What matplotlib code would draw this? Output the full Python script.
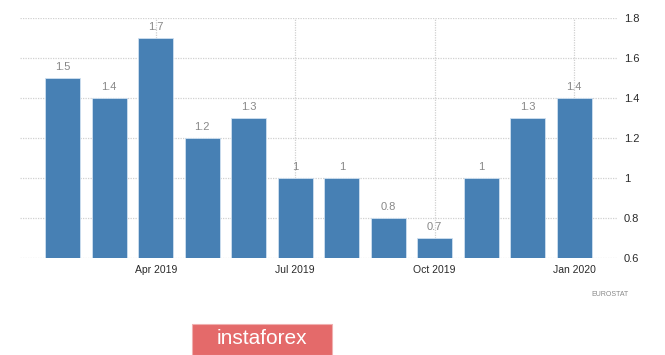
import numpy as np
import matplotlib
matplotlib.use("Agg")
import matplotlib.pyplot as plt
from matplotlib.patches import Rectangle

plt.rcParams['font.family'] = ['Liberation Sans', 'DejaVu Sans']

# Data: monthly values Feb 2019 .. Jan 2020
months = ["Feb 2019", "Mar 2019", "Apr 2019", "May 2019", "Jun 2019", "Jul 2019",
          "Aug 2019", "Sep 2019", "Oct 2019", "Nov 2019", "Dec 2019", "Jan 2020"]
values = [1.5, 1.4, 1.7, 1.2, 1.3, 1.0, 1.0, 0.8, 0.7, 1.0, 1.3, 1.4]
value_labels = ["1.5", "1.4", "1.7", "1.2", "1.3", "1", "1", "0.8", "0.7", "1", "1.3", "1.4"]
tick_months = ["Apr 2019", "Jul 2019", "Oct 2019", "Jan 2020"]
y_ticks = [0.6, 0.8, 1.0, 1.2, 1.4, 1.6, 1.8]
y_tick_labels = ["0.6", "0.8", "1", "1.2", "1.4", "1.6", "1.8"]

fig = plt.figure(figsize=(6.65, 3.55), dpi=100)
ax = fig.add_axes([20 / 665, 1 - 258 / 355, (617 - 20) / 665, (258 - 18) / 355])

x = np.arange(len(months))
bottom = 0.6
ax.bar(x, np.array(values) - bottom, bottom=bottom, width=0.75,
       color="#4780b4", edgecolor="#cfe0f0", linewidth=0.6, zorder=3)

for xi, v, lab in zip(x, values, value_labels):
    ax.text(xi, v + 0.03, lab, ha="center", va="bottom", fontsize=8, color="#888888")

ax.set_xlim(-0.92, 11.92)
ax.set_ylim(0.6, 1.8)

tick_pos = [months.index(m) for m in tick_months]
ax.set_xticks(tick_pos)
ax.set_xticklabels(tick_months, fontsize=7.5, color="#2a2a2a")
ax.set_yticks(y_ticks)
ax.set_yticklabels(y_tick_labels, fontsize=8, color="#2a2a2a")
ax.yaxis.tick_right()
ax.tick_params(axis="x", length=0, pad=5)
ax.tick_params(axis="y", length=0, pad=5)

ax.grid(True, color="#d0d0d0", linestyle=(0, (1, 1)), linewidth=0.9, zorder=0)
for s in ax.spines.values():
    s.set_visible(False)

fig.text(610 / 665, 1 - 295 / 355, "EUROSTAT", fontsize=5, color="#888888",
         ha="center", va="center")

# logo box
fig.patches.append(Rectangle((192 / 665, 0), (332 - 192) / 665, (355 - 324) / 355,
                             transform=fig.transFigure, facecolor="#e46a6a",
                             edgecolor="#f0b0b0", linewidth=0.8))
fig.text(262 / 665, 1 - 339 / 355, "instaforex", fontsize=15, color="white",
         ha="center", va="center")

fig.savefig("out.png", dpi=100)
